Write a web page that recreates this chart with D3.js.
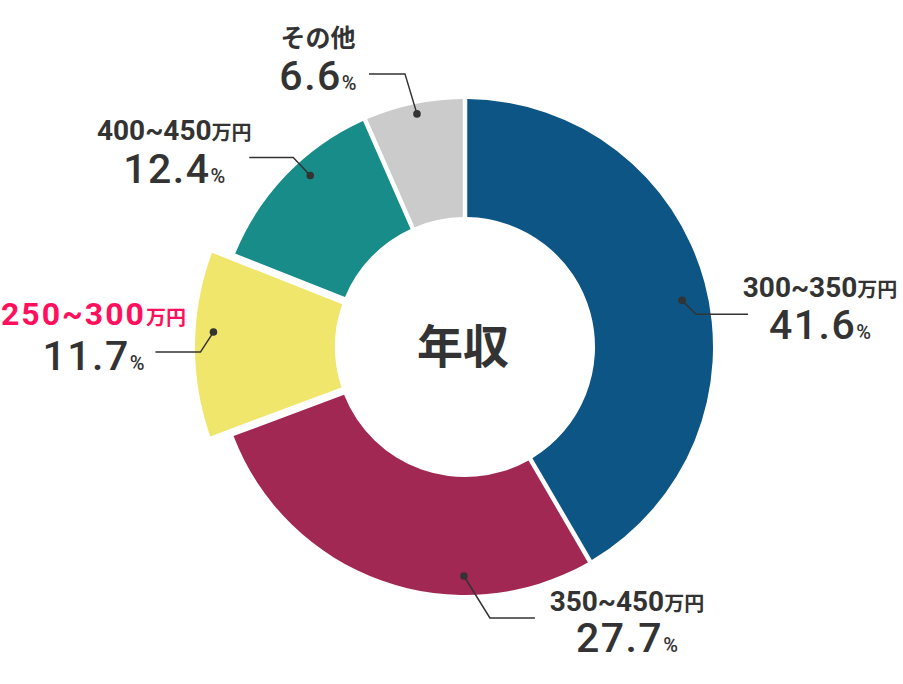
<!DOCTYPE html>
<html>
<head>
<meta charset="utf-8">
<script src="https://cdn.jsdelivr.net/npm/d3@7"></script>
<style>
  body { margin: 0; background: #fff; }
  svg { display: block; }
  .num { font-family: Roboto, "Noto Sans", sans-serif; }
  .jp { font-family: "Noto Sans CJK JP", sans-serif; }
</style>
</head>
<body>
<div id="chart"></div>
<script>
const w = 903;
const h = 684;

// data
const ranges = ["300~350", "350~450", "250~300", "400~450", "その他"];
const units = ["万円", "万円", "万円", "万円", ""];
const shares = [41.6, 27.7, 11.7, 12.4, 6.6];
const colors = ["#0d5584", "#a12853", "#f0e66c", "#178c89", "#cbcbcb"];
const highlighted = "250~300";

// leader line / label layout (dot position inside slice, elbow offset, line length, label offset)
const dotFrac = [0.52, 0.306, 0.568, 0.59, 0.51];
const dotRadius = [222, 229, 252, 231, 238];
const elbow = [[14, 14], [26, 42], [-13, 20], [-17, -18], [-12, -40]];
const lineLen = [52, 45, -45, -44, -36];
const labelDx = [72, 92, -62, -75, -51];
const labelDy = [[-17, 25], [-7, 34], [-27, 18], [-18, 25], [-27, 16]];

const cx = 465, cy = 347;
const innerR = 130, outerR = 248, bigR = 270;

const svg = d3.select("#chart").append("svg")
    .attr("width", w)
    .attr("height", h);

const g = svg.append("g").attr("transform", "translate(" + cx + "," + cy + ")");

const data = ranges.map(function(r, i) {
    return {range: r, unit: units[i], share: shares[i], color: colors[i], i: i};
});

const pie = d3.pie().sort(null).value(d => d.share);
const arcs = pie(data);

const arc = d3.arc()
    .innerRadius(innerR)
    .outerRadius(d => d.data.range === highlighted ? bigR : outerR)
    .padRadius(200)
    .padAngle(d => d.data.range === highlighted ? 0.055 : 0.0225);

// slices
g.selectAll("path.slice")
    .data(arcs)
    .enter()
    .append("path")
    .attr("class", "slice")
    .attr("d", arc)
    .attr("fill", d => d.data.color);

// center title
g.append("text")
    .attr("class", "jp")
    .attr("x", -2)
    .attr("y", 16)
    .attr("text-anchor", "middle")
    .attr("font-size", 46)
    .attr("font-weight", 700)
    .attr("fill", "#333")
    .text("年収");

// leaders
arcs.forEach(function(d) {
    const i = d.data.i;
    const a = d.startAngle + (d.endAngle - d.startAngle) * dotFrac[i];
    const p = d3.pointRadial(a, dotRadius[i]);
    const e = [p[0] + elbow[i][0], p[1] + elbow[i][1]];
    const end = [e[0] + lineLen[i], e[1]];

    g.append("path")
        .attr("d", d3.line()([p, e, end]))
        .attr("fill", "none")
        .attr("stroke", "#333")
        .attr("stroke-width", 1.5);

    g.append("circle")
        .attr("cx", p[0])
        .attr("cy", p[1])
        .attr("r", 3.8)
        .attr("fill", "#333");

    const lx = end[0] + labelDx[i];
    const hl = d.data.range === highlighted;

    // category label
    const cat = g.append("text")
        .attr("x", lx)
        .attr("y", end[1] + labelDy[i][0])
        .attr("text-anchor", "middle")
        .attr("font-weight", 700)
        .attr("fill", hl ? "#ff0f5c" : "#333");
    if (d.data.unit) {
        cat.append("tspan").attr("class", "num")
            .attr("font-size", hl ? 32 : 28)
            .attr("letter-spacing", hl ? 2 : 0)
            .text(d.data.range);
        cat.append("tspan").attr("class", "jp")
            .attr("font-size", 20)
            .text(d.data.unit);
    } else {
        cat.append("tspan").attr("class", "jp")
            .attr("font-size", 25)
            .text(d.data.range);
    }

    // share label
    const pct = g.append("text")
        .attr("x", lx)
        .attr("y", end[1] + labelDy[i][1])
        .attr("text-anchor", "middle")
        .attr("fill", "#333");
    pct.append("tspan").attr("class", "num")
        .attr("font-size", 41)
        .attr("font-weight", 500)
        .attr("letter-spacing", 1.5)
        .text(d3.format(".1f")(d.data.share));
    pct.append("tspan").attr("class", "num")
        .attr("font-size", 20)
        .attr("font-weight", 500)
        .text("%");
});
</script>
</body>
</html>
